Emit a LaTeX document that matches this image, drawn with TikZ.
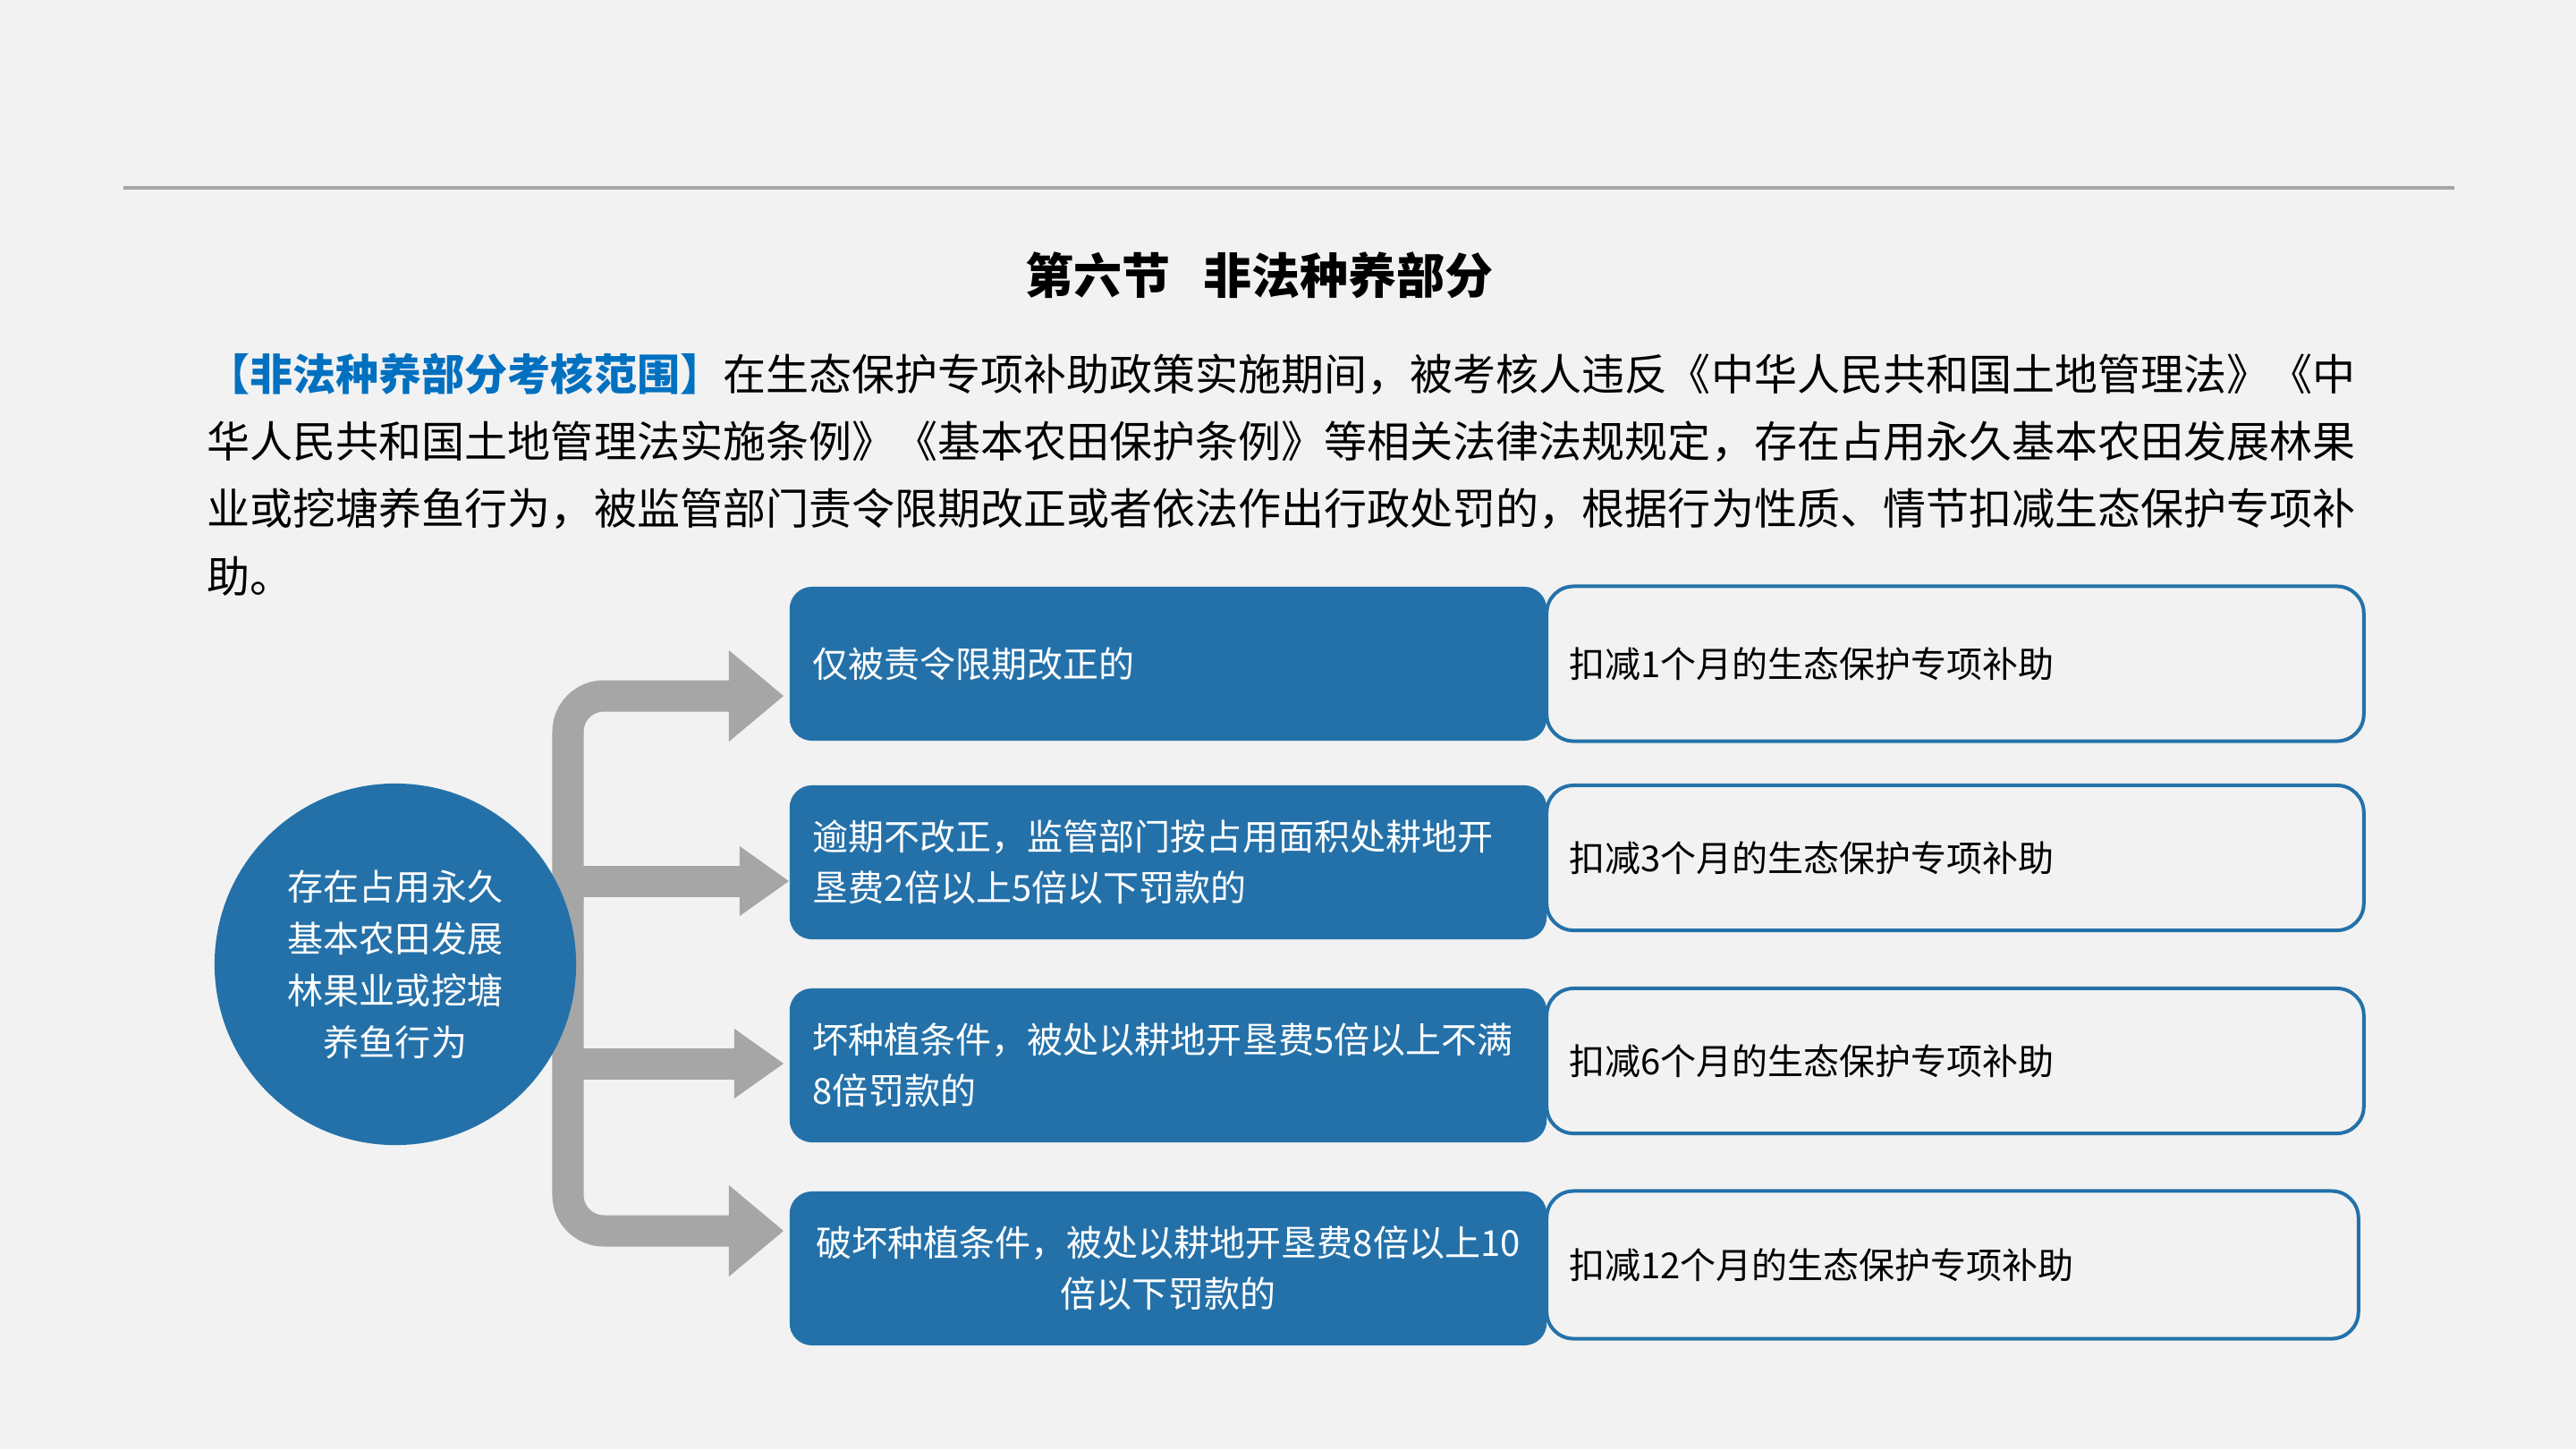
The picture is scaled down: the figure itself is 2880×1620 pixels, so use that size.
\documentclass[tikz,border=0pt]{standalone}
\usepackage{fontspec}
\setmainfont{Noto Sans CJK SC}
\usetikzlibrary{arrows.meta}
\definecolor{slidebg}{HTML}{F2F2F2}
\definecolor{boxblue}{HTML}{2471A9}
\definecolor{arrowgray}{HTML}{A6A6A6}
\definecolor{keyblue}{HTML}{0070C0}

\begin{document}
\begin{tikzpicture}[x=0.01cm,y=-0.01cm]
\useasboundingbox (0,0) rectangle (2880,1620);
\fill[slidebg] (0,0) rectangle (2880,1620);
\draw[arrowgray, line width=0.04cm] (138,210) -- (2744,210);

\node (title) [anchor=base] at (1408,328)
    {\fontsize{15.36}{18}\selectfont\bfseries 第六节\hspace{0.37cm}非法种养部分};

% base of a multi-line node = baseline of its last line
\node (scope) [anchor=base west, inner sep=0pt, align=left,
               font=\fontsize{13.66}{21.34}\selectfont] at (231,662)
    {{\bfseries\color{keyblue}【非法种养部分考核范围】}在生态保护专项补助政策实施期间，被考核人违反《中华人民共和国土地管理法》《中\\
     华人民共和国土地管理法实施条例》《基本农田保护条例》等相关法律法规规定，存在占用永久基本农田发展林果\\
     业或挖塘养鱼行为，被监管部门责令限期改正或者依法作出行政处罚的，根据行为性质、情节扣减生态保护专项补\\
     助。};

\begin{scope}[flow/.style={draw=arrowgray, line width=0.35cm, rounded corners=0.4cm},
              bigtip/.style={-{Triangle[length=0.61cm,width=1.02cm,line width=0pt]}},
              smalltip/.style={-{Triangle[length=0.55cm,width=0.78cm,line width=0pt]}}]
    \coordinate (hub) at (635,1080);
    \coordinate (t1) at (876,778);
    \coordinate (t2) at (882,985);
    \coordinate (t3) at (876,1189);
    \coordinate (t4) at (876,1376);

    \draw [flow,bigtip] (hub) -- (hub |- t1) -- (t1);
    \draw [flow,smalltip] (hub |- t2) -- (t2);
    \draw [flow,smalltip] (hub |- t3) -- (t3);
    \draw [flow,bigtip] (hub) -- (hub |- t4) -- (t4);
\end{scope}

\node (habit) [circle, fill=boxblue, minimum size=4.04cm, inner sep=0pt, text=white,
               align=center, font=\fontsize{11.38}{16.5}\selectfont] at (442,1078)
    {存在占用永久\\基本农田发展\\林果业或挖塘\\养鱼行为};

\begin{scope}[every node/.style={rectangle, rounded corners=0.25cm, fill=boxblue, text=white,
                                 minimum height=1.72cm, inner xsep=0.26cm, text width=7.94cm,
                                 align=left, font=\fontsize{11.38}{16.22}\selectfont}]
    \node (case1) at (1306,742) {仅被责令限期改正的};
    \node (case2) at (1306,964) {逾期不改正，监管部门按占用面积处耕地开\\垦费2倍以上5倍以下罚款的};
    \node (case3) at (1306,1191) {坏种植条件，被处以耕地开垦费5倍以上不满\\8倍罚款的};
    \node (case4) [align=center] at (1306,1418) {破坏种植条件，被处以耕地开垦费8倍以上10\\倍以下罚款的};
\end{scope}

\begin{scope}[every node/.style={rectangle, rounded corners=0.3cm, draw=boxblue, line width=0.04cm,
                                 fill=slidebg, inner xsep=0.25cm, text width=8.63cm,
                                 align=left, font=\fontsize{11.38}{16.22}\selectfont}]
    \node (cut1) [minimum height=1.73cm] at (2186,742) {扣减1个月的生态保护专项补助};
    \node (cut2) [minimum height=1.62cm] at (2186,959) {扣减3个月的生态保护专项补助};
    \node (cut3) [minimum height=1.62cm] at (2186,1186) {扣减6个月的生态保护专项补助};
    \node (cut4) [minimum height=1.65cm, text width=8.57cm] at (2183,1414) {扣减12个月的生态保护专项补助};
\end{scope}
\end{tikzpicture}
\end{document}
